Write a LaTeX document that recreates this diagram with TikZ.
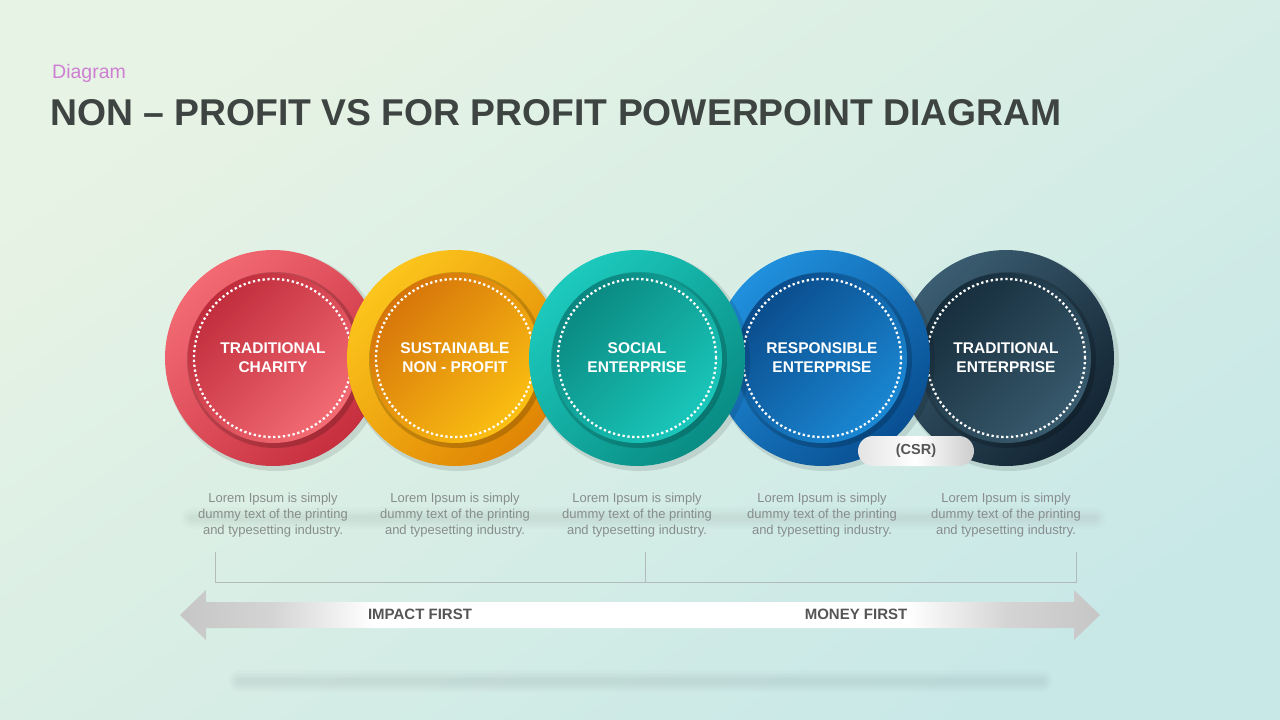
\documentclass[tikz,border=0pt]{standalone}
\usepackage{fontspec}
\setmainfont{Liberation Sans}
\definecolor{bgtop}{HTML}{E7F3E4}
\definecolor{bgbot}{HTML}{C8E8E7}
\definecolor{titlec}{HTML}{3D4441}
\definecolor{subc}{HTML}{CF7FD3}
\definecolor{descc}{HTML}{878D8C}
\definecolor{brkc}{HTML}{B2BBBA}
\definecolor{lblc}{HTML}{555555}
\definecolor{ag}{HTML}{C6C6C6}
\definecolor{ag2}{HTML}{D4D4D4}
\definecolor{pillL}{HTML}{E4E4E4}
\definecolor{pillR}{HTML}{CDCDCD}
% red
\definecolor{rOL}{HTML}{F36A73}\definecolor{rOD}{HTML}{C62F3E}
\definecolor{rID}{HTML}{C02C3B}\definecolor{rIL}{HTML}{F36C74}
% yellow
\definecolor{yOL}{HTML}{FCC51C}\definecolor{yOD}{HTML}{E08504}
\definecolor{yID}{HTML}{D6740A}\definecolor{yIL}{HTML}{FBC012}
% teal
\definecolor{tOL}{HTML}{1CCABD}\definecolor{tOD}{HTML}{098C84}
\definecolor{tID}{HTML}{0A8780}\definecolor{tIL}{HTML}{1AC8BB}
% blue
\definecolor{bOL}{HTML}{2090DD}\definecolor{bOD}{HTML}{094F92}
\definecolor{bID}{HTML}{0A4C8B}\definecolor{bIL}{HTML}{1B88D4}
% navy
\definecolor{nOL}{HTML}{3B5D71}\definecolor{nOD}{HTML}{132533}
\definecolor{nID}{HTML}{162D3C}\definecolor{nIL}{HTML}{395B6E}
\pgfdeclarehorizontalshading{arrowsh}{100bp}{color(0bp)=(ag); color(25bp)=(ag); color(30bp)=(ag2); color(35.5bp)=(white); color(64.5bp)=(white); color(70bp)=(ag2); color(75bp)=(ag); color(100bp)=(ag)}
\tikzset{
  desc/.style={align=center, text=descc, font=\fontsize{13}{16}\selectfont, inner sep=0pt},
  ctext/.style={align=center, text=white, font=\fontsize{15.5}{19}\selectfont\bfseries, inner sep=0pt},
  arrlbl/.style={text=lblc, font=\fontsize{15}{18}\selectfont\bfseries, inner sep=0pt},
  brk/.style={draw=brkc, line width=1pt},
  pill/.style={rounded corners=15pt, minimum width=116pt, minimum height=30pt, inner sep=0pt,
     left color=pillL, right color=pillR, middle color=white, text=lblc, font=\fontsize{14.5}{17}\selectfont\bfseries}
}
\newcommand{\ringunit}[8]{%
  \fill[black, opacity=0.10] (#2+3,361) circle (110);
  \node[circle, minimum size=216pt, inner sep=0pt, top color=#3, bottom color=#4, shading angle=45] (#1o) at (#2,358) {};
  \fill[black, opacity=0.18] (#2+2,360) circle (88);
  \node[circle, minimum size=170pt, inner sep=0pt, top color=#5, bottom color=#6, shading angle=45] (#1i) at (#2,358) {};
  \node[circle, minimum size=158pt, inner sep=0pt, draw=white, line width=2.3pt, dash pattern=on 2.3pt off 2.6pt] (#1d) at (#2,358) {};
  \node[ctext] (#1t) at (#2,358) {#7\\#8};
}
\begin{document}
\begin{tikzpicture}[x=1pt,y=-1pt]
\useasboundingbox (0,0) rectangle (1280,720);
\shade[top color=bgtop, bottom color=bgbot, shading angle=35] (0,0) rectangle (1280,720);
% title
\node[anchor=base west, inner sep=0pt, text=subc, font=\fontsize{19.5}{22}\selectfont] (sub) at (52,78) {Diagram};
\node[anchor=base west, inner sep=0pt, text=titlec, font=\fontsize{37.3}{40}\selectfont\bfseries] (title) at (50,125) {NON – PROFIT VS FOR PROFIT POWERPOINT DIAGRAM};
% circles (stacking order: outer ones first, middle on top)
\ringunit{c1}{273}{rOL}{rOD}{rID}{rIL}{TRADITIONAL}{CHARITY}
\ringunit{c5}{1006}{nOL}{nOD}{nID}{nIL}{TRADITIONAL}{ENTERPRISE}
\ringunit{c2}{455}{yOL}{yOD}{yID}{yIL}{SUSTAINABLE}{NON - PROFIT}
\ringunit{c4}{822}{bOL}{bOD}{bID}{bIL}{RESPONSIBLE}{ENTERPRISE}
\ringunit{c3}{637}{tOL}{tOD}{tID}{tIL}{SOCIAL}{ENTERPRISE}
\node[pill] (csr) at (916,451) {(CSR)};
% soft shadows
\foreach \w in {22,17,13,9,6}{
  \draw[line width=\w pt, line cap=round, black!60, opacity=0.018] (192,518) -- (1095,518);
  \draw[line width=\w pt, line cap=round, black!60, opacity=0.022] (240,681) -- (1042,681);
}
% descriptions
\node[desc] (d1) at (273,515) {Lorem Ipsum is simply\\dummy text of the printing\\and typesetting industry.};
\node[desc] (d2) at (455,515) {Lorem Ipsum is simply\\dummy text of the printing\\and typesetting industry.};
\node[desc] (d3) at (637,515) {Lorem Ipsum is simply\\dummy text of the printing\\and typesetting industry.};
\node[desc] (d4) at (822,515) {Lorem Ipsum is simply\\dummy text of the printing\\and typesetting industry.};
\node[desc] (d5) at (1006,515) {Lorem Ipsum is simply\\dummy text of the printing\\and typesetting industry.};
% bracket
\coordinate (bL) at (215,552);
\coordinate (bM) at (645,552);
\coordinate (bR) at (1076,552);
\coordinate (bRb) at (1076,582);
\draw[brk] (bL) |- (bRb) -- (bR);
\draw[brk] (bM) -- (bM |- bRb);
% double arrow
\shade[shading=arrowsh] (180,615) -- (206,590) -- (206,602) -- (1074,602) -- (1074,590) -- (1100,615) -- (1074,640) -- (1074,628) -- (206,628) -- (206,640) -- cycle;
\node[arrlbl] (imp) at (420,614) {IMPACT FIRST};
\node[arrlbl] (mon) at (856,614) {MONEY FIRST};
\end{tikzpicture}
\end{document}
